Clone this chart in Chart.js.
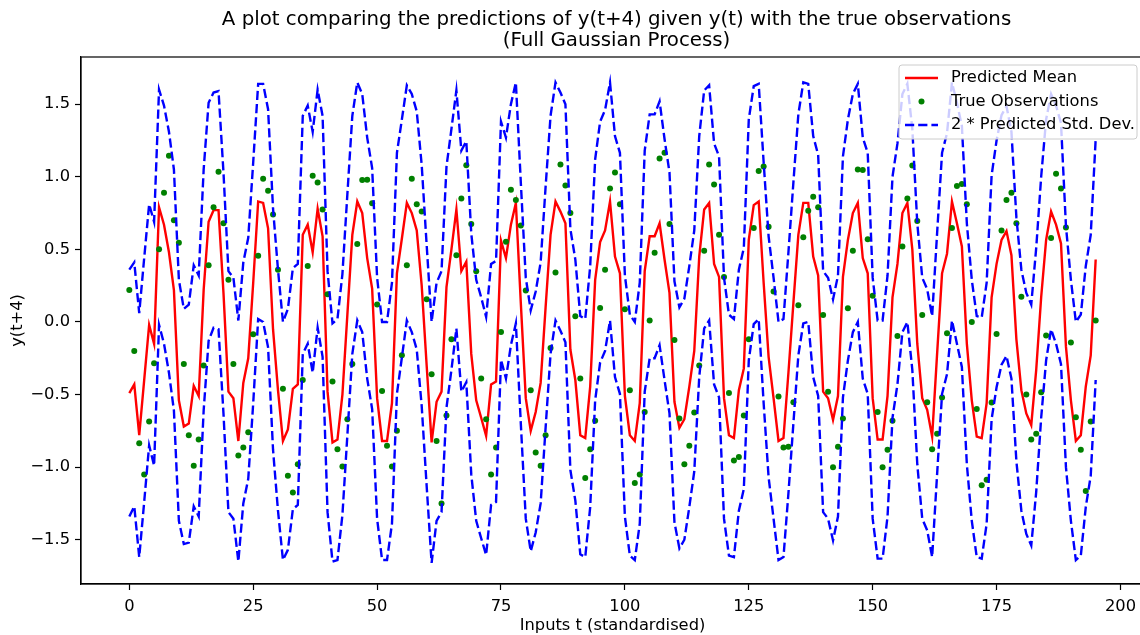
<!DOCTYPE html>
<html>
<head>
<meta charset="utf-8">
<script src="https://cdn.jsdelivr.net/npm/chart.js@4.4.1/dist/chart.umd.min.js"></script>
<style>
  html, body { margin: 0; padding: 0; background: #fff; overflow: hidden; }
  #wrap { width: 1140px; height: 635px; overflow: hidden; position: relative; }
  #c { position: absolute; left: 0; top: 0; }
</style>
</head>
<body>
<div id="wrap"><canvas id="c" width="1148" height="635"></canvas></div>
<script>
// Predicted mean of y(t+4) for each input step t = 0..195
const predictedMean = [
  -0.49, -0.43, -0.78, -0.40, -0.02, -0.15, 0.79, 0.67, 0.48, 0.22,
  -0.54, -0.72, -0.70, -0.44, -0.51, 0.22, 0.69, 0.77, 0.77, 0.20,
  -0.48, -0.525, -0.82, -0.42, -0.25, 0.27, 0.83, 0.82, 0.645, -0.05,
  -0.47, -0.82, -0.74, -0.46, -0.43, 0.60, 0.67, 0.48, 0.78, 0.59,
  -0.48, -0.83, -0.81, -0.50, 0.05, 0.60, 0.83, 0.75, 0.44, 0.23,
  -0.525, -0.82, -0.82, -0.56, 0.335, 0.575, 0.82, 0.75, 0.63, 0.25,
  -0.30, -0.83, -0.55, -0.48, 0.24, 0.50, 0.775, 0.35, 0.415, -0.22,
  -0.54, -0.66, -0.785, -0.43, -0.41, 0.56, 0.44, 0.67, 0.82, 0.13,
  -0.525, -0.75, -0.62, -0.42, 0.10, 0.60, 0.83, 0.76, 0.68, -0.19,
  -0.40, -0.78, -0.80, -0.445, 0.29, 0.55, 0.63, 0.83, 0.45, 0.335,
  -0.51, -0.78, -0.82, -0.56, 0.35, 0.59, 0.59, 0.68, 0.43, 0.20,
  -0.55, -0.73, -0.67, -0.445, -0.20, 0.45, 0.775, 0.82, 0.40, 0.31,
  -0.525, -0.78, -0.80, -0.47, -0.32, 0.565, 0.805, 0.83, 0.27, -0.24,
  -0.525, -0.82, -0.80, -0.35, 0.13, 0.60, 0.82, 0.82, 0.45, 0.32,
  -0.48, -0.525, -0.675, -0.51, 0.31, 0.565, 0.75, 0.82, 0.44, 0.335,
  -0.525, -0.81, -0.81, -0.51, 0.17, 0.40, 0.75, 0.82, 0.50, -0.15,
  -0.525, -0.605, -0.79, -0.22, 0.335, 0.47, 0.83, 0.68, 0.52, -0.15,
  -0.54, -0.79, -0.80, -0.56, 0.17, 0.40, 0.565, 0.626, 0.46, -0.12,
  -0.47, -0.63, -0.71, -0.33, 0.17, 0.565, 0.76, 0.67, 0.54, -0.17,
  -0.54, -0.82, -0.78, -0.445, -0.23, 0.43
];

// Observed y(t+4)
const trueObservations = [
  0.22, -0.20, -0.835, -1.05, -0.686, -0.284, 0.50, 0.89, 1.145, 0.70,
  0.546, -0.29, -0.78, -0.99, -0.81, -0.30, 0.39, 0.79, 1.035, 0.68,
  0.29, -0.29, -0.92, -0.865, -0.76, -0.085, 0.456, 0.986, 0.904, 0.74,
  0.36, -0.46, -1.06, -1.175, -0.98, -0.40, 0.385, 1.007, 0.96, 0.775,
  0.19, -0.41, -0.876, -0.995, -0.67, -0.29, 0.537, 0.977, 0.98, 0.817,
  0.12, -0.475, -0.853, -0.995, -0.75, -0.23, 0.39, 0.986, 0.81, 0.76,
  0.156, -0.36, -0.82, -1.25, -0.645, -0.12, 0.46, 0.85, 1.08, 0.675,
  0.35, -0.39, -0.67, -1.05, -0.865, -0.07, 0.553, 0.91, 0.84, 0.665,
  0.216, -0.47, -0.90, -0.99, -0.78, -0.18, 0.34, 1.085, 0.94, 0.75,
  0.04, -0.39, -1.075, -0.876, -0.68, 0.096, 0.36, 0.92, 1.03, 0.81,
  0.087, -0.47, -1.11, -1.05, -0.62, 0.01, 0.477, 1.126, 1.165, 0.675,
  -0.124, -0.665, -0.98, -0.853, -0.624, -0.30, 0.49, 1.085, 0.947, 0.60,
  0.31, -0.49, -0.955, -0.93, -0.645, -0.12, 0.647, 1.04, 1.07, 0.656,
  0.21, -0.514, -0.865, -0.86, -0.553, 0.115, 0.583, 0.766, 0.863, 0.79,
  0.048, -0.48, -1.00, -0.86, -0.665, 0.094, 0.49, 1.05, 1.046, 0.57,
  0.18, -0.62, -1.00, -0.88, -0.68, -0.096, 0.52, 0.85, 1.078, 0.695,
  0.048, -0.553, -0.876, -0.77, -0.52, -0.078, 0.647, 0.936, 0.95, 0.81,
  0.0, -0.60, -1.124, -1.087, -0.555, -0.083, 0.63, 0.84, 0.89, 0.68,
  0.174, -0.50, -0.81, -0.77, -0.484, -0.094, 0.578, 1.02, 0.92, 0.65,
  -0.142, -0.656, -0.88, -1.165, -0.686, 0.01
];

// Two predicted standard deviations around the mean
const twoStdDev = [
  0.85, 0.84, 0.84, 0.84, 0.83, 0.84, 0.81, 0.82, 0.83, 0.83,
  0.83, 0.81, 0.82, 0.83, 0.83, 0.83, 0.82, 0.81, 0.82, 0.83,
  0.83, 0.83, 0.83, 0.83, 0.83, 0.83, 0.81, 0.82, 0.82, 0.83,
  0.83, 0.82, 0.83, 0.83, 0.83, 0.82, 0.82, 0.83, 0.82, 0.83,
  0.83, 0.82, 0.83, 0.83, 0.83, 0.82, 0.82, 0.82, 0.83, 0.83,
  0.83, 0.82, 0.82, 0.83, 0.83, 0.82, 0.81, 0.82, 0.82, 0.83,
  0.83, 0.83, 0.82, 0.83, 0.83, 0.83, 0.82, 0.83, 0.83, 0.83,
  0.83, 0.83, 0.82, 0.83, 0.83, 0.82, 0.83, 0.83, 0.83, 0.83,
  0.83, 0.83, 0.83, 0.83, 0.83, 0.82, 0.82, 0.82, 0.82, 0.83,
  0.83, 0.82, 0.82, 0.83, 0.83, 0.83, 0.83, 0.82, 0.83, 0.83,
  0.83, 0.83, 0.82, 0.83, 0.83, 0.84, 0.84, 0.84, 0.83, 0.83,
  0.83, 0.83, 0.83, 0.83, 0.83, 0.83, 0.82, 0.81, 0.83, 0.83,
  0.83, 0.83, 0.82, 0.83, 0.83, 0.83, 0.82, 0.81, 0.83, 0.83,
  0.83, 0.82, 0.82, 0.83, 0.83, 0.83, 0.83, 0.82, 0.83, 0.83,
  0.83, 0.83, 0.83, 0.83, 0.83, 0.83, 0.82, 0.82, 0.83, 0.83,
  0.83, 0.82, 0.82, 0.83, 0.83, 0.83, 0.82, 0.82, 0.83, 0.83,
  0.83, 0.83, 0.83, 0.83, 0.83, 0.83, 0.82, 0.83, 0.83, 0.83,
  0.83, 0.83, 0.83, 0.83, 0.84, 0.85, 0.86, 0.86, 0.85, 0.84,
  0.83, 0.83, 0.83, 0.84, 0.83, 0.83, 0.81, 0.82, 0.83, 0.83,
  0.83, 0.82, 0.83, 0.83, 0.83, 0.83
];

const xTickValues = [0, 25, 50, 75, 100, 125, 150, 175, 200];
const yTickValues = [-1.5, -1.0, -0.5, 0.0, 0.5, 1.0, 1.5];

const titleLines = [
  'A plot comparing the predictions of y(t+4) given y(t) with the true observations',
  '(Full Gaussian Process)'
];
const legendLabels = ['Predicted Mean', 'True Observations', '2 * Predicted Std. Dev.'];

const FONT = '"DejaVu Sans", "Liberation Sans", sans-serif';
const RED = '#ff0000', GREEN = '#008000', BLUE = '#0000ff';
const LW = 2.4;
const DASH = [9.2, 4.0];
const TICK_FONT = 16.3;
const TITLE_FONT = 19.8;

const meanPts = predictedMean.map((v, t) => ({ x: t, y: v }));
const obsPts = trueObservations.map((v, t) => ({ x: t, y: v }));
const upperPts = predictedMean.map((v, t) => ({ x: t, y: v + twoStdDev[t] }));
const lowerPts = predictedMean.map((v, t) => ({ x: t, y: v - twoStdDev[t] }));

function fmtY(v) {
  const s = Math.abs(v).toFixed(1);
  return v < 0 ? '\u2212' + s : s;
}

// Axes frame, title and legend box drawn on the canvas
const decorations = {
  id: 'decorations',
  afterDraw(chart) {
    const { ctx, chartArea: a } = chart;
    ctx.save();
    // frame
    ctx.strokeStyle = '#000';
    ctx.lineWidth = 1.2;
    ctx.strokeRect(a.left, a.top, a.right - a.left, a.bottom - a.top);

    // title
    const cx = (a.left + a.right) / 2 + 4;
    ctx.fillStyle = '#000';
    ctx.font = TITLE_FONT + 'px ' + FONT;
    ctx.textAlign = 'center';
    ctx.textBaseline = 'middle';
    ctx.fillText(titleLines[0], cx, 20);
    ctx.fillText(titleLines[1], cx, 41);

    // legend
    const lx = 899, ly = 65, lw = 238, lh = 74, r = 3;
    ctx.beginPath();
    ctx.moveTo(lx + r, ly);
    ctx.lineTo(lx + lw - r, ly);
    ctx.quadraticCurveTo(lx + lw, ly, lx + lw, ly + r);
    ctx.lineTo(lx + lw, ly + lh - r);
    ctx.quadraticCurveTo(lx + lw, ly + lh, lx + lw - r, ly + lh);
    ctx.lineTo(lx + r, ly + lh);
    ctx.quadraticCurveTo(lx, ly + lh, lx, ly + lh - r);
    ctx.lineTo(lx, ly + r);
    ctx.quadraticCurveTo(lx, ly, lx + r, ly);
    ctx.closePath();
    ctx.fillStyle = 'rgba(255,255,255,0.8)';
    ctx.fill();
    ctx.strokeStyle = '#cccccc';
    ctx.lineWidth = 1;
    ctx.stroke();

    const hx0 = 905, hx1 = 938, tx = 951;
    const rows = [78, 101.5, 125];
    ctx.lineWidth = LW;
    ctx.strokeStyle = RED;
    ctx.beginPath(); ctx.moveTo(hx0, rows[0]); ctx.lineTo(hx1, rows[0]); ctx.stroke();
    ctx.fillStyle = GREEN;
    ctx.beginPath(); ctx.arc((hx0 + hx1) / 2, rows[1], 3, 0, Math.PI * 2); ctx.fill();
    ctx.strokeStyle = BLUE;
    ctx.setLineDash(DASH);
    ctx.beginPath(); ctx.moveTo(hx0, rows[2]); ctx.lineTo(hx1, rows[2]); ctx.stroke();
    ctx.setLineDash([]);

    ctx.fillStyle = '#000';
    ctx.font = TICK_FONT + 'px ' + FONT;
    ctx.textAlign = 'left';
    ctx.textBaseline = 'middle';
    legendLabels.forEach((s, i) => ctx.fillText(s, tx, rows[i]));
    ctx.restore();
  }
};

new Chart(document.getElementById('c'), {
  type: 'line',
  data: {
    datasets: [
      { data: lowerPts, borderColor: BLUE, borderWidth: LW, borderDash: DASH, pointRadius: 0, tension: 0, fill: false },
      { data: upperPts, borderColor: BLUE, borderWidth: LW, borderDash: DASH, pointRadius: 0, tension: 0, fill: false },
      { data: obsPts, showLine: false, pointRadius: 3, pointBackgroundColor: GREEN, pointBorderWidth: 0, borderColor: GREEN },
      { data: meanPts, borderColor: RED, borderWidth: LW, pointRadius: 0, tension: 0, fill: false }
    ]
  },
  options: {
    responsive: false,
    animation: false,
    devicePixelRatio: 1,
    layout: { padding: { top: 57, left: 0, right: 0, bottom: 0 } },
    plugins: { legend: { display: false }, tooltip: { enabled: false }, title: { display: false } },
    scales: {
      x: {
        type: 'linear',
        min: -9.75,
        max: 204.75,
        afterBuildTicks: s => { s.ticks = xTickValues.map(v => ({ value: v })); },
        afterFit: s => { s.height = 51; },
        ticks: { color: '#000', font: { family: FONT, size: TICK_FONT }, padding: 7, maxRotation: 0, autoSkip: false, callback: v => String(v) },
        grid: { drawOnChartArea: false, drawTicks: true, tickLength: 6, tickColor: '#000', tickWidth: 1.2 },
        border: { display: true, color: '#000', width: 1.2 },
        title: { display: true, text: 'Inputs t (standardised)', color: '#000', font: { family: FONT, size: TICK_FONT }, padding: { top: 0, bottom: -1 } }
      },
      y: {
        type: 'linear',
        min: -1.805,
        max: 1.825,
        afterBuildTicks: s => { s.ticks = yTickValues.map(v => ({ value: v })); },
        afterFit: s => { s.width = 81; },
        ticks: { color: '#000', font: { family: FONT, size: TICK_FONT }, padding: 5, autoSkip: false, callback: v => fmtY(v) },
        grid: { drawOnChartArea: false, drawTicks: true, tickLength: 6, tickColor: '#000', tickWidth: 1.2 },
        border: { display: true, color: '#000', width: 1.2 },
        title: { display: true, text: 'y(t+4)', color: '#000', font: { family: FONT, size: TICK_FONT }, padding: { top: 8, bottom: 0 } }
      }
    }
  },
  plugins: [decorations]
});
</script>
</body>
</html>
